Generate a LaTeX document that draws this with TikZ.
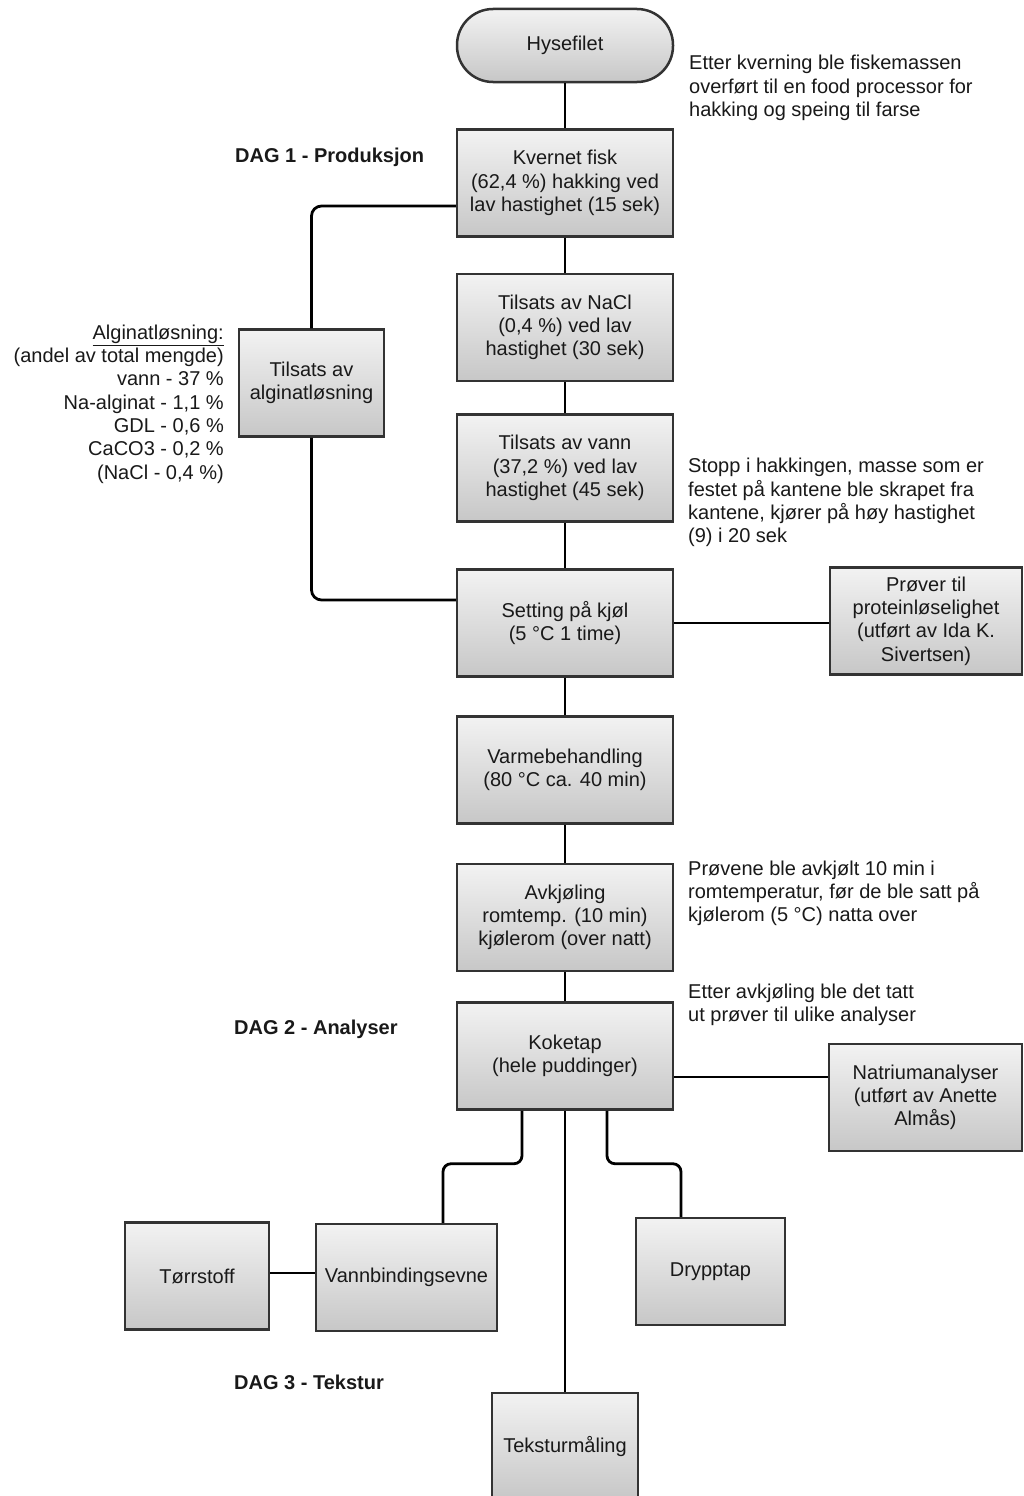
\documentclass[tikz,border=0pt]{standalone}
\usepackage{fontspec}
\setmainfont{Liberation Sans}
\begin{document}
\begin{tikzpicture}[x=1pt,y=-1pt,
  every node/.style={font=\fontsize{20}{23.3}\selectfont, text=black!90},
  procbox/.style={draw=black!80, line width=2.5pt, top color=black!5, bottom color=black!22,
    minimum height=107pt, inner sep=0pt, align=center},
  note/.style={align=left, anchor=west, inner sep=0pt},
  daglabel/.style={anchor=west, inner sep=0pt, font=\fontsize{20}{23.3}\selectfont\bfseries},
  conn/.style={line width=2.8pt, black}]
\useasboundingbox (0,0) rectangle (1023,1496);
\fill[white] (0,0) rectangle (1023,1496);

% nodes
\node[procbox, rounded corners=36pt, minimum width=216pt, minimum height=73pt] (hyse) at (565,45.5) {Hysefilet};
\node[procbox, minimum width=216pt] (kvernet) at (565,183) {Kvernet fisk\\(62,4 \%) hakking ved\\lav hastighet (15 sek)};
\node[procbox, minimum width=216pt] (nacl) at (565,327.5) {Tilsats av NaCl\\(0,4 \%) ved lav\\hastighet (30 sek)};
\node[procbox, minimum width=216pt] (vann) at (565,468) {Tilsats av vann\\(37,2 \%) ved lav\\hastighet (45 sek)};
\node[procbox, minimum width=216pt] (setting) at (565,623) {Setting på kjøl\\(5 °C 1 time)};
\node[procbox, minimum width=216pt] (varme) at (565,770) {Varmebehandling\\(80 °C ca. 40 min)};
\node[procbox, minimum width=216pt] (avkj) at (565,917.5) {Avkjøling\\romtemp. (10 min)\\kjølerom (over natt)};
\node[procbox, minimum width=216pt] (koketap) at (565,1056) {Koketap\\(hele puddinger)};
\node[procbox, minimum width=145pt] (alg) at (311.5,383) {Tilsats av\\alginatløsning};
\node[procbox, minimum width=192pt] (prover) at (926,621) {Prøver til\\proteinløselighet\\(utført av Ida K.\\Sivertsen)};
\node[procbox, minimum width=193pt] (natrium) at (925.5,1097.5) {Natriumanalyser\\(utført av Anette\\Almås)};
\node[procbox, minimum width=144pt] (torr) at (197,1276) {Tørrstoff};
\node[procbox, minimum width=181pt] (vannb) at (406.5,1277.5) {Vannbindingsevne};
\node[procbox, minimum width=149pt] (dryp) at (710.5,1271.5) {Drypptap};
\node[procbox, minimum width=146pt] (tekst) at (565,1446.5) {Teksturmåling};

% notes
\node[note] (n1) at (689,88) {Etter kverning ble fiskemassen\\overført til en food processor for\\hakking og speing til farse};
\node[daglabel] (d1) at (235,157) {DAG 1 - Produksjon};
\node[align=right, anchor=east, inner sep=0pt] (algtxt) at (224,404) {\underline{Alginatløsning:}\\(andel av total mengde)\\vann - 37 \%\\Na-alginat - 1,1 \%\\GDL - 0,6 \%\\CaCO3 - 0,2 \%\\(NaCl - 0,4 \%)};
\node[note] (n2) at (688,502.5) {Stopp i hakkingen, masse som er\\festet på kantene ble skrapet fra\\kantene, kjører på høy hastighet\\(9) i 20 sek};
\node[note] (n3) at (688,893.5) {Prøvene ble avkjølt 10 min i\\romtemperatur, før de ble satt på\\kjølerom (5 °C) natta over};
\node[note] (n4) at (688,1005) {Etter avkjøling ble det tatt\\ut prøver til ulike analyser};
\node[daglabel] (d2) at (234,1029) {DAG 2 - Analyser};
\node[daglabel] (d3) at (234,1382) {DAG 3 - Tekstur};

% helper coordinates
\coordinate (kvl) at ([yshift=-23pt]kvernet.west);
\coordinate (setl) at ([yshift=23pt]setting.west);
\coordinate (kr) at ([yshift=-21pt]koketap.east);
\coordinate (kbl) at ([xshift=-43pt]koketap.south);
\coordinate (kbr) at ([xshift=42pt]koketap.south);
\coordinate (vbt) at ([xshift=36.5pt]vannb.north);
\coordinate (dpt) at ([xshift=-29.5pt]dryp.north);
\coordinate (tr) at ([yshift=3pt]torr.east);

% connectors
\draw[conn] (hyse) -- (kvernet);
\draw[conn] (kvernet) -- (nacl);
\draw[conn] (nacl) -- (vann);
\draw[conn] (vann) -- (setting);
\draw[conn] (setting) -- (varme);
\draw[conn] (varme) -- (avkj);
\draw[conn] (avkj) -- (koketap);
\draw[conn, rounded corners=10pt] (kvl) -| (alg.north);
\draw[conn, rounded corners=10pt] (alg.south) |- (setl);
\draw[conn] (setting.east) -- (setting.east -| prover.west);
\draw[conn] (kr) -- (kr -| natrium.west);
\draw[conn] (koketap.south) -- (tekst.north);
\draw[conn, rounded corners=8pt] (kbl) -- ++(0,53) -| (vbt);
\draw[conn, rounded corners=8pt] (kbr) -- ++(0,53) -| (dpt);
\draw[conn] (tr) -- (tr -| vannb.west);
\end{tikzpicture}
\end{document}
